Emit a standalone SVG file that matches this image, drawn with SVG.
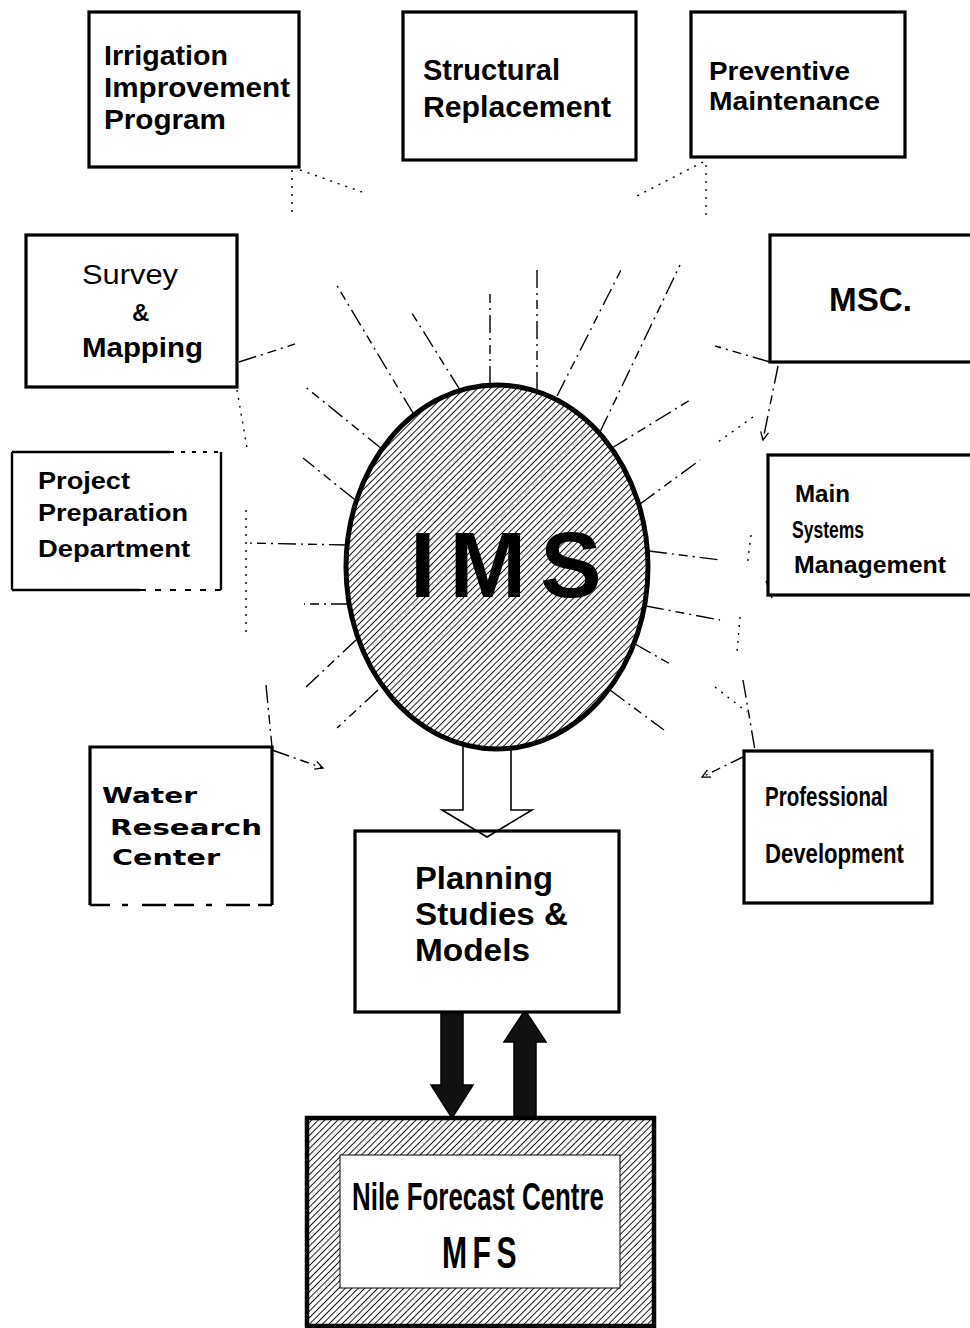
<svg xmlns="http://www.w3.org/2000/svg" width="970" height="1328" viewBox="0 0 970 1328">
<defs>
  <!-- diagonal "/" hatching used for the IMS hub and the forecast-centre frame -->
  <pattern id="hatch" patternUnits="userSpaceOnUse" width="4.6" height="4.6" patternTransform="rotate(45)">
    <rect width="4.6" height="4.6" fill="#fff"/>
    <line x1="0" y1="0" x2="0" y2="4.6" stroke="#111" stroke-width="1.9"/>
  </pattern>
  <marker id="tip" viewBox="0 0 10 10" refX="9" refY="5" markerWidth="10" markerHeight="10" orient="auto" markerUnits="userSpaceOnUse">
    <path d="M1,1 L9,5 L1,9" fill="none" stroke="#000" stroke-width="1.3"/>
  </marker>
</defs>
<style>
  .box{fill:#fff;stroke:#000;stroke-width:3.2}
  .lbl{font-family:"Liberation Sans",Arial,Helvetica,sans-serif;font-weight:bold;fill:#000}
  .reg{font-weight:normal}
  .wide{font-family:"DejaVu Sans","Liberation Sans",sans-serif;font-weight:bold}
  .spoke{fill:none;stroke:#000;stroke-width:1.4;stroke-dasharray:18 5 2 5 9 5 2 5}
  .dot{fill:none;stroke:#000;stroke-width:1.4;stroke-dasharray:2 6}
  .heavy{fill:#111;stroke:#000;stroke-width:1.5}
</style>

<!-- connectors -->
<g id="connectors">
  <!-- spokes radiating from the IMS hub -->
  <path class="spoke" d="M413,413 L336,284"/>
  <path class="spoke" d="M460,390 L410,310"/>
  <path class="spoke" d="M490,384 L490,292"/>
  <path class="spoke" d="M537,390 L537,268"/>
  <path class="spoke" d="M557,396 L623,266"/>
  <path class="spoke" d="M600,432 L680,265"/>
  <path class="spoke" d="M382,449 L303,385"/>
  <path class="spoke" d="M354,499 L303,458"/>
  <path class="spoke" d="M347,545 L246,543"/>
  <path class="spoke" d="M349,604 L304,604"/>
  <path class="spoke" d="M356,640 L306,687"/>
  <path class="spoke" d="M378,690 L337,728"/>
  <path class="spoke" d="M612,448 L690,400"/>
  <path class="spoke" d="M640,504 L700,460"/>
  <path class="spoke" d="M649,551 L720,560"/>
  <path class="spoke" d="M646,606 L720,620"/>
  <path class="spoke" d="M635,644 L672,665"/>
  <path class="spoke" d="M610,690 L664,730"/>

  <!-- links leaving the outer boxes -->
  <path class="dot" d="M300,170 L362,192"/>
  <path class="dot" d="M292,170 L292,218"/>
  <path class="dot" d="M703,162 L635,197"/>
  <path class="dot" d="M706,165 L706,215"/>
  <path class="spoke" d="M239,362 L295,344"/>
  <path class="dot" d="M237,390 L247,448"/>
  <path class="dot" d="M246,510 L246,632"/>
  <path class="spoke" d="M266,685 L272,747"/>
  <path class="spoke" d="M272,750 L323,768" marker-end="url(#tip)"/>
  <path class="spoke" d="M770,362 L715,346"/>
  <path class="spoke" d="M778,366 L763,440" marker-end="url(#tip)"/>
  <path class="dot" d="M753,417 L718,442"/>
  <path class="dot" d="M751,535 L747,567"/>
  <path class="dot" d="M740,617 L737,652"/>
  <path class="spoke" d="M743,680 L755,750"/>
  <path class="dot" d="M715,687 L747,712"/>
  <path class="spoke" d="M747,755 L702,777" marker-end="url(#tip)"/>
  <path class="spoke" d="M772,598 L765,578"/>

  <!-- heavy exchange arrows between planning and the forecast centre -->
  <path class="heavy" d="M441,1012 L463,1012 L463,1085 L473,1085 L452,1118 L431,1085 L441,1085 Z"/>
  <path class="heavy" d="M514,1118 L536,1118 L536,1042 L546,1042 L525,1010 L504,1042 L514,1042 Z"/>
</g>

<!-- outer boxes -->
<g id="irrigation">
  <rect class="box" x="89" y="12" width="210" height="155"/>
  <text class="lbl" font-size="28" x="104" y="65" textLength="124" lengthAdjust="spacingAndGlyphs">Irrigation</text>
  <text class="lbl" font-size="28" x="104" y="97" textLength="186" lengthAdjust="spacingAndGlyphs">Improvement</text>
  <text class="lbl" font-size="28" x="104" y="129" textLength="122" lengthAdjust="spacingAndGlyphs">Program</text>
</g>
<g id="structural">
  <rect class="box" x="403" y="12" width="233" height="148"/>
  <text class="lbl" font-size="30" x="423" y="80" textLength="137" lengthAdjust="spacingAndGlyphs">Structural</text>
  <text class="lbl" font-size="30" x="423" y="117" textLength="188" lengthAdjust="spacingAndGlyphs">Replacement</text>
</g>
<g id="preventive">
  <rect class="box" x="691" y="12" width="214" height="145"/>
  <text class="lbl" font-size="26" x="709" y="80" textLength="141" lengthAdjust="spacingAndGlyphs">Preventive</text>
  <text class="lbl" font-size="26" x="709" y="110" textLength="171" lengthAdjust="spacingAndGlyphs">Maintenance</text>
</g>
<g id="survey">
  <rect class="box" x="26" y="235" width="211" height="152"/>
  <text class="lbl reg" font-size="27" x="82" y="284" textLength="96" lengthAdjust="spacingAndGlyphs">Survey</text>
  <text class="lbl" font-size="24" x="132" y="321">&amp;</text>
  <text class="lbl" font-size="28" x="82" y="357" textLength="121" lengthAdjust="spacingAndGlyphs">Mapping</text>
</g>
<g id="msc">
  <rect class="box" x="770" y="235" width="204" height="127"/>
  <text class="lbl" font-size="34" x="829" y="311" textLength="83" lengthAdjust="spacingAndGlyphs">MSC.</text>
</g>
<g id="project">
  <path d="M12,452 L170,452" stroke="#000" stroke-width="2.4"/>
  <path d="M170,452 L221,452" stroke="#000" stroke-width="2" stroke-dasharray="4 7"/>
  <path d="M221,452 L221,590 M12,452 L12,590" stroke="#000" stroke-width="2.4"/>
  <path d="M12,590 L140,590" stroke="#000" stroke-width="2.4"/>
  <path d="M140,590 L221,590" stroke="#000" stroke-width="2" stroke-dasharray="6 9"/>
  <text class="lbl" font-size="23" x="38" y="489" textLength="92" lengthAdjust="spacingAndGlyphs">Project</text>
  <text class="lbl" font-size="23" x="38" y="521" textLength="150" lengthAdjust="spacingAndGlyphs">Preparation</text>
  <text class="lbl" font-size="23" x="38" y="557" textLength="152" lengthAdjust="spacingAndGlyphs">Department</text>
</g>
<g id="main-systems">
  <rect class="box" x="768" y="455" width="206" height="140"/>
  <text class="lbl" font-size="23" x="795" y="502" textLength="55" lengthAdjust="spacingAndGlyphs">Main</text>
  <text class="lbl" font-size="23" x="792" y="538" textLength="72" lengthAdjust="spacingAndGlyphs">Systems</text>
  <text class="lbl" font-size="23" x="794" y="573" textLength="152" lengthAdjust="spacingAndGlyphs">Management</text>
</g>
<g id="water-research">
  <path d="M90,905 L90,747 L272,747 L272,905" fill="#fff" stroke="#000" stroke-width="3.2"/>
  <path d="M90,905 L272,905" stroke="#000" stroke-width="2.6" stroke-dasharray="20 12 6 14 24 8"/>
  <text class="lbl wide" font-size="22" x="102" y="803" textLength="95" lengthAdjust="spacingAndGlyphs">Water</text>
  <text class="lbl wide" font-size="22" x="110" y="835" textLength="152" lengthAdjust="spacingAndGlyphs">Research</text>
  <text class="lbl wide" font-size="22" x="112" y="865" textLength="108" lengthAdjust="spacingAndGlyphs">Center</text>
</g>
<g id="professional">
  <rect class="box" x="744" y="751" width="188" height="152"/>
  <text class="lbl" font-size="28" x="765" y="806" textLength="123" lengthAdjust="spacingAndGlyphs">Professional</text>
  <text class="lbl" font-size="28" x="765" y="863" textLength="139" lengthAdjust="spacingAndGlyphs">Development</text>
</g>

<!-- planning node with the open arrow feeding it from the hub -->
<g id="planning">
  <rect class="box" x="355" y="831" width="264" height="181"/>
  <text class="lbl" font-size="31" x="415" y="889" textLength="138" lengthAdjust="spacingAndGlyphs">Planning</text>
  <text class="lbl" font-size="31" x="415" y="925" textLength="153" lengthAdjust="spacingAndGlyphs">Studies &amp;</text>
  <text class="lbl" font-size="31" x="415" y="961" textLength="115" lengthAdjust="spacingAndGlyphs">Models</text>
</g>
<g id="hub-arrow">
  <path d="M463,740 L463,810 L442,810 L487,837 L532,810 L511,810 L511,740" fill="none" stroke="#000" stroke-width="1.6"/>
</g>

<!-- central IMS hub -->
<g id="ims">
  <ellipse cx="497" cy="567" rx="151" ry="182" fill="url(#hatch)" stroke="#000" stroke-width="5"/>
  <text class="lbl" font-size="92" x="410" y="597" letter-spacing="14">IMS</text>
</g>

<!-- forecast centre -->
<g id="nile-forecast">
  <rect x="307" y="1118" width="347" height="208" fill="url(#hatch)" stroke="#000" stroke-width="4.5"/>
  <rect x="340" y="1155" width="280" height="133" fill="#fff" stroke="#000" stroke-width="1"/>
  <text class="lbl" font-size="38" x="352" y="1210" textLength="252" lengthAdjust="spacingAndGlyphs">Nile Forecast Centre</text>
  <text class="lbl" font-size="44" x="442" y="1268" letter-spacing="8" textLength="80" lengthAdjust="spacingAndGlyphs">MFS</text>
</g>
</svg>
